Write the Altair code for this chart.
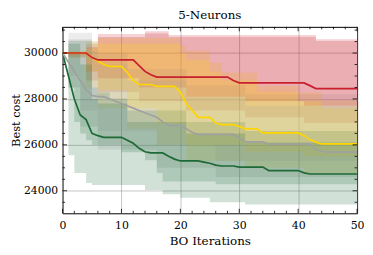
import altair as alt
import pandas as pd

iters = list(range(51))
series_names = ["red", "yellow", "gray", "green"]
line_colors = ["#C8202F", "#FFD500", "#A0A0A0", "#1D6A36"]

red_mean = [30000, 30000, 30000, 30000, 30000, 29800, 29700, 29700, 29700, 29700,
            29700, 29700, 29700, 29450, 29200, 29050, 28950, 28950, 28950, 28950,
            28950, 28950, 28950, 28950, 28950, 28950, 28950, 28950, 28950, 28800,
            28700, 28700, 28700, 28700, 28700, 28700, 28700, 28700, 28700, 28700,
            28700, 28700, 28580, 28450, 28450, 28450, 28450, 28450, 28450, 28450,
            28450]
red_ohi = [30000, 30050, 30050, 30050, 30400, 30400, 30830, 30830, 30830, 30830,
           30830, 30830, 30830, 30830, 30950, 30950, 30950, 30950, 30780, 30780,
           30780, 30780, 30780, 30780, 30780, 30780, 30780, 30780, 30780, 30780,
           30780, 30780, 30780, 30780, 30780, 30780, 30780, 30780, 30780, 30780,
           30780, 30780, 30780, 30600, 30600, 30600, 30600, 30600, 30600, 30600,
           30600]
red_ihi = [30000, 30020, 30020, 30020, 30250, 30250, 30700, 30700, 30700, 30700,
           30700, 30700, 30700, 30700, 30850, 30850, 30850, 30850, 30700, 30700,
           30700, 30700, 30700, 30700, 30700, 30700, 30700, 30700, 30700, 30700,
           30700, 30700, 30700, 30700, 30700, 30700, 30700, 30700, 30700, 30700,
           30700, 30700, 30700, 30520, 30520, 30520, 30520, 30520, 30520, 30520,
           30520]
red_olo = [30000, 29800, 29800, 29800, 28800, 28800, 28300, 28300, 28300, 28300,
           28300, 28300, 28300, 27900, 27900, 27900, 27900, 27900, 27900, 27900,
           27900, 27500, 27500, 27500, 27500, 27500, 27500, 27500, 27500, 27500,
           27500, 27200, 27200, 27200, 27200, 27200, 27200, 27200, 27200, 27200,
           27200, 26950, 26950, 26950, 26950, 26950, 26950, 26950, 26950, 26950,
           26950]
red_ilo = [30000, 29900, 29900, 29900, 29200, 29200, 28900, 28900, 28900, 28900,
           28900, 28900, 28900, 28500, 28500, 28500, 28500, 28500, 28500, 28500,
           28500, 28100, 28100, 28100, 28100, 28100, 28100, 28100, 28100, 28100,
           28100, 27900, 27900, 27900, 27900, 27900, 27900, 27900, 27900, 27900,
           27900, 27700, 27700, 27700, 27700, 27700, 27700, 27700, 27700, 27700,
           27700]

yel_mean = [30000, 30000, 30000, 30000, 30000, 29800, 29650, 29500, 29420, 29420,
            29420, 29150, 28800, 28630, 28630, 28630, 28550, 28550, 28550, 28550,
            28300, 27800, 27500, 27200, 27200, 27200, 26950, 26880, 26880, 26880,
            26800, 26700, 26700, 26700, 26520, 26520, 26520, 26520, 26520, 26520,
            26520, 26400, 26220, 26120, 26040, 26040, 26040, 26040, 26040, 26040,
            26040]
yel_ohi = [30000, 30100, 30100, 30100, 30500, 30500, 30650, 30650, 30650, 30650,
           30650, 30650, 30650, 30650, 30650, 30650, 30650, 30650, 30650, 30650,
           30320, 30100, 30100, 30100, 30100, 29580, 29580, 29150, 29150, 29150,
           29150, 29150, 29150, 28580, 28580, 28580, 28580, 28580, 28580, 28580,
           28280, 28280, 28280, 28280, 27930, 27930, 27930, 27930, 27930, 27930,
           27930]
yel_ihi = [30000, 30050, 30050, 30050, 30200, 30200, 30400, 30400, 30400, 30400,
           30400, 30400, 30400, 30400, 30400, 30400, 30400, 30400, 30400, 30400,
           30000, 29700, 29700, 29700, 29700, 29200, 29200, 28800, 28800, 28800,
           28800, 28800, 28800, 28300, 28300, 28300, 28300, 28300, 28300, 28300,
           27900, 27900, 27900, 27900, 27600, 27600, 27600, 27600, 27600, 27600,
           27600]
yel_olo = [30000, 29800, 29800, 29800, 28500, 28500, 27600, 27600, 27600, 27600,
           27600, 26700, 26700, 26700, 26700, 26700, 26000, 26000, 26000, 26000,
           26000, 25300, 25300, 25300, 25300, 25300, 25300, 25300, 25300, 25300,
           25300, 25000, 25000, 25000, 25000, 25000, 25000, 25000, 25000, 25000,
           25000, 24750, 24750, 24750, 24750, 24750, 24750, 24750, 24750, 24750,
           24750]
yel_ilo = [30000, 29900, 29900, 29900, 29200, 29200, 28400, 28400, 28400, 28400,
           28400, 27600, 27600, 27600, 27600, 27600, 26900, 26900, 26900, 26900,
           26900, 26000, 26000, 26000, 26000, 26000, 26000, 26000, 26000, 26000,
           26000, 25700, 25700, 25700, 25700, 25700, 25700, 25700, 25700, 25700,
           25700, 25500, 25500, 25500, 25500, 25500, 25500, 25500, 25500, 25500,
           25500]

gry_mean = [30000, 29600, 29200, 28800, 28400, 28150, 28100, 28100, 28000, 27900,
            27800, 27700, 27600, 27500, 27400, 27300, 27200, 27000, 26850, 26850,
            26850, 26700, 26550, 26460, 26460, 26460, 26460, 26460, 26460, 26460,
            26300, 26130, 26130, 26130, 26130, 26030, 26030, 26030, 26030, 26030,
            26030, 26030, 26030, 25800, 25720, 25680, 25680, 25680, 25680, 25680,
            25680]
gry_ohi = [30000, 30880, 30880, 30880, 30880, 30500, 30000, 30000, 30000, 30000,
           30000, 29300, 29300, 29300, 29300, 29300, 29300, 29300, 29300, 29300,
           29300, 28600, 28600, 28600, 28600, 28600, 28600, 28600, 28600, 28600,
           28600, 28200, 28200, 28200, 28200, 28200, 28200, 28200, 28200, 28200,
           28200, 28200, 28200, 28200, 28200, 28200, 28200, 28200, 28200, 28200,
           28200]
gry_ihi = [30000, 30600, 30600, 30600, 30600, 30100, 29500, 29500, 29500, 29500,
           29500, 28800, 28800, 28800, 28800, 28800, 28800, 28800, 28800, 28800,
           28800, 28100, 28100, 28100, 28100, 28100, 28100, 28100, 28100, 28100,
           28100, 27700, 27700, 27700, 27700, 27700, 27700, 27700, 27700, 27700,
           27700, 27700, 27700, 27700, 27700, 27700, 27700, 27700, 27700, 27700,
           27700]
gry_olo = [30000, 28500, 28500, 26800, 26800, 26800, 25800, 25800, 25800, 25800,
           25800, 25800, 25800, 25800, 25800, 25800, 25000, 25000, 25000, 25000,
           25000, 25000, 25000, 25000, 25000, 25000, 24600, 24600, 24600, 24600,
           24600, 24600, 24600, 24600, 24600, 24600, 24600, 24600, 24600, 24600,
           24600, 24600, 24600, 24600, 24600, 24600, 24600, 24600, 24600, 24600,
           24600]
gry_ilo = [30000, 29000, 29000, 27500, 27500, 27500, 26600, 26600, 26600, 26600,
           26600, 26600, 26600, 26600, 26600, 26600, 26000, 26000, 26000, 26000,
           26000, 26000, 26000, 26000, 26000, 26000, 25300, 25300, 25300, 25300,
           25300, 25300, 25300, 25300, 25300, 25300, 25300, 25300, 25300, 25300,
           25300, 25300, 25300, 25300, 25300, 25300, 25300, 25300, 25300, 25300,
           25300]

grn_mean = [30000, 29000, 28000, 27300, 27100, 26500, 26400, 26330, 26330, 26330,
            26330, 26200, 26070, 25850, 25700, 25650, 25650, 25650, 25500, 25380,
            25300, 25300, 25300, 25300, 25250, 25200, 25120, 25080, 25080, 25080,
            25030, 25030, 25030, 25030, 25030, 24880, 24880, 24880, 24880, 24880,
            24880, 24780, 24730, 24730, 24730, 24730, 24730, 24730, 24730, 24730,
            24730]
grn_ohi = [30000, 30530, 30530, 30530, 30530, 28500, 28280, 28280, 28020, 28020,
           28020, 27500, 27500, 27500, 27500, 27500, 27500, 27500, 27500, 27500,
           27500, 27000, 27000, 27000, 27000, 27000, 27000, 27000, 27000, 27000,
           27000, 26600, 26600, 26600, 26600, 26600, 26600, 26600, 26600, 26600,
           26600, 26600, 26600, 26600, 26600, 26600, 26600, 26600, 26600, 26600,
           26600]
grn_ihi = [30000, 30400, 30400, 29500, 29500, 28000, 27800, 27800, 27800, 27800,
           27800, 27000, 27000, 27000, 27000, 27000, 27000, 27000, 27000, 27000,
           27000, 26500, 26500, 26500, 26500, 26500, 26500, 26500, 26500, 26500,
           26500, 26100, 26100, 26100, 26100, 26100, 26100, 26100, 26100, 26100,
           26100, 26100, 26100, 26100, 26100, 26100, 26100, 26100, 26100, 26100,
           26100]
grn_olo = [30000, 25550, 24770, 24770, 24340, 24250, 24250, 24250, 24250, 24250,
           24250, 24250, 24250, 24250, 24030, 24030, 24030, 23850, 23850, 23850,
           23700, 23700, 23700, 23700, 23700, 23500, 23500, 23500, 23500, 23500,
           23500, 23400, 23400, 23400, 23400, 23400, 23400, 23400, 23400, 23400,
           23400, 23400, 23400, 23400, 23400, 23400, 23400, 23400, 23400, 23400,
           23400]
grn_ilo = [30000, 28500, 27000, 26500, 26200, 26000, 26000, 26000, 26000, 26000,
           25680, 25680, 25680, 25680, 25330, 25330, 24770, 24400, 24400, 24400,
           24400, 24400, 24400, 24400, 24400, 24400, 24280, 24280, 24280, 24280,
           24280, 24280, 24280, 24280, 24280, 24280, 24280, 24280, 24280, 24280,
           24280, 24280, 24280, 24280, 24280, 24280, 24280, 24280, 24280, 24280,
           24280]

x_major = [0, 10, 20, 30, 40, 50]
x_minor = [2, 4, 6, 8, 12, 14, 16, 18, 22, 24, 26, 28, 32, 34, 36, 38, 42, 44, 46, 48]
y_major = [24000, 26000, 28000, 30000]
y_minor = [23500, 24500, 25000, 25500, 26500, 27000, 27500, 28500, 29000, 29500, 30500, 31000]

table = {
    "red": (red_mean, red_ilo, red_ihi, red_olo, red_ohi),
    "yellow": (yel_mean, yel_ilo, yel_ihi, yel_olo, yel_ohi),
    "gray": (gry_mean, gry_ilo, gry_ihi, gry_olo, gry_ohi),
    "green": (grn_mean, grn_ilo, grn_ihi, grn_olo, grn_ohi),
}
rows = []
for name in series_names:
    m, ilo, ihi, olo, ohi = table[name]
    for i in range(len(iters)):
        rows.append({"series": name, "it": iters[i], "mean": m[i],
                     "ilo": ilo[i], "ihi": ihi[i], "olo": olo[i], "ohi": ohi[i]})
df = pd.DataFrame(rows)

W, H = 297, 188
FONT = "DejaVu Serif"
xs = alt.Scale(domain=[0, 50], nice=False, zero=False)
ys = alt.Scale(domain=[23020, 31140], nice=False, zero=False)
cs = alt.Scale(domain=series_names, range=line_colors)

xaxis = alt.Axis(
    title="BO Iterations", values=x_major, grid=True, ticks=False, domain=False,
    labelFlush=False,
    labelFont=FONT, labelFontSize=11, labelColor="black", labelPadding=6,
    titleFont=FONT, titleFontSize=12, titleFontWeight="normal", titleColor="black",
    titlePadding=5, gridColor="#888888", gridOpacity=0.6, gridWidth=0.8)
yaxis = alt.Axis(
    title="Best cost", values=y_major, format="d", grid=True, ticks=False, domain=False,
    labelFlush=False,
    labelFont=FONT, labelFontSize=10.8, labelColor="black", labelPadding=5,
    titleFont=FONT, titleFontSize=11.5, titleFontWeight="normal", titleColor="black",
    titlePadding=2, gridColor="#888888", gridOpacity=0.6, gridWidth=0.8)

base = alt.Chart(df)
outer = base.mark_area(interpolate="step-after", opacity=0.2, clip=True).encode(
    x=alt.X("it:Q", scale=xs, axis=xaxis),
    y=alt.Y("olo:Q", scale=ys, axis=yaxis),
    y2="ohi:Q",
    color=alt.Color("series:N", scale=cs, legend=None),
)
inner = base.mark_area(interpolate="step-after", opacity=0.2, clip=True).encode(
    x=alt.X("it:Q", scale=xs, axis=xaxis),
    y=alt.Y("ilo:Q", scale=ys, axis=yaxis),
    y2="ihi:Q",
    color=alt.Color("series:N", scale=cs, legend=None),
)

lines = []
for name in ["green", "gray", "yellow", "red"]:
    lines.append(
        base.transform_filter(alt.datum.series == name).mark_line(strokeWidth=1.7, clip=True).encode(
            x=alt.X("it:Q", scale=xs, axis=xaxis),
            y=alt.Y("mean:Q", scale=ys, axis=yaxis),
            color=alt.Color("series:N", scale=cs, legend=None),
        )
    )

def xticks(vals, length):
    c = alt.Chart(pd.DataFrame({"v": vals}))
    b = c.mark_rule(color="black", strokeWidth=0.8).encode(
        x=alt.X("v:Q", scale=xs, axis=xaxis), y=alt.value(H), y2=alt.value(H - length))
    t = c.mark_rule(color="black", strokeWidth=0.8).encode(
        x=alt.X("v:Q", scale=xs, axis=xaxis), y=alt.value(0), y2=alt.value(length))
    return [b, t]

def yticks(vals, length):
    c = alt.Chart(pd.DataFrame({"v": vals}))
    l = c.mark_rule(color="black", strokeWidth=0.8).encode(
        y=alt.Y("v:Q", scale=ys, axis=yaxis), x=alt.value(0), x2=alt.value(length))
    r = c.mark_rule(color="black", strokeWidth=0.8).encode(
        y=alt.Y("v:Q", scale=ys, axis=yaxis), x=alt.value(W), x2=alt.value(W - length))
    return [l, r]

ticks = xticks(x_major, 4.5) + xticks(x_minor, 2.5) + yticks(y_major, 4.5) + yticks(y_minor, 2.5)

chart = alt.layer(outer, inner, *lines, *ticks).properties(
    width=W, height=H,
    title=alt.TitleParams("5-Neurons", font=FONT, fontSize=12, fontWeight="normal",
                          color="black", offset=5),
    autosize=alt.AutoSizeParams(type="none"),
    padding={"left": 55, "top": 18, "right": 8, "bottom": 35},
).configure_view(stroke="black", strokeWidth=1)

chart.save("out.html", embed_options={"renderer": "svg", "actions": False})
